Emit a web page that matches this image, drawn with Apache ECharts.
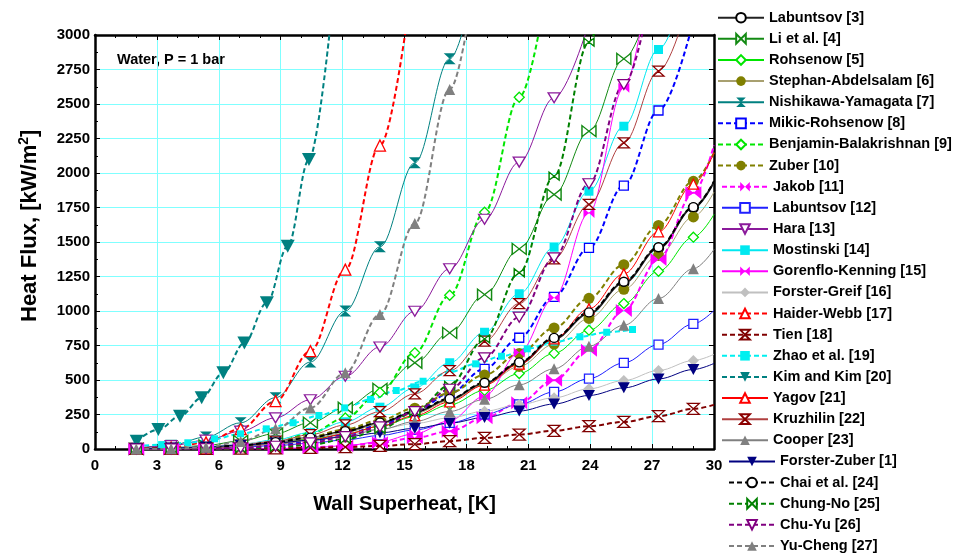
<!DOCTYPE html>
<html>
<head>
<meta charset="utf-8">
<script src="https://cdn.jsdelivr.net/npm/echarts@6/dist/echarts.min.js"></script>
<style>
  html, body { margin: 0; padding: 0; background: #fff; }
  #chart { width: 973px; height: 558px; }
</style>
</head>
<body>
<div id="chart"></div>
<script>
// 横轴：壁面过热度 (K)，多数曲线的标记点位置，最后的 30 只画线不画点
const xs = [2, 3.69, 5.38, 7.06, 8.75, 10.44, 12.13, 13.81, 15.5, 17.19, 18.88, 20.56, 22.25, 23.94, 25.63, 27.31, 29, 30]
// Kim and Kim、Zhao 的标记点位置不同
const kimX = [2.02, 3.07, 4.12, 5.17, 6.22, 7.24, 8.33, 9.34, 10.37, 11.4]
const zhaoX = [2.0, 3.23, 4.5, 5.8, 7.05, 8.3, 9.6, 10.85, 12.1, 13.35, 14.6, 15.9, 17.2, 18.45, 19.7, 20.95, 22.25, 23.5, 24.8, 26.05]

// 各关联式的热流密度 (kW/m2)
const labuntsov3 = [0.6, 3.6, 11, 25, 48, 81, 127, 188, 267, 359, 475, 622, 798, 982, 1204, 1455, 1748, 1935]
const li4 = [1.3, 8.4, 26, 59, 112, 191, 299, 436, 625, 842, 1119, 1450, 1844, 2303, 2827, 3420]
const rohsenow5 = [0.5, 3.2, 9.8, 22, 42, 71, 110, 164, 234, 320, 425, 547, 693, 861, 1054, 1288, 1535, 1700]
const stephan6 = [0.55, 3.5, 10.7, 24, 46, 78, 122, 181, 257, 351, 466, 598, 760, 946, 1157, 1403, 1682, 1862]
const nishikawa7 = [5, 28, 87, 190, 372, 630, 1000, 1465, 2074, 2827, 3740]
const mikic8 = [0.1, 1.0, 4.3, 12.6, 29, 58, 103, 172, 270, 403, 581, 806, 1103, 1458, 1909, 2453, 3100]
const benjamin9 = [0.05, 1.0, 5.3, 18.7, 50, 113, 225, 410, 697, 1114, 1716, 2549, 3666]
const zuber10 = [0.64, 4.0, 12.4, 28, 53, 90, 142, 209, 296, 405, 537, 692, 877, 1092, 1336, 1620, 1940, 2148]
const jakob11 = [0, 0.06, 0.4, 1.6, 4.7, 11.3, 23.6, 45.5, 81, 129, 226, 335, 499, 716, 1003, 1373, 1856, 2200]
const labuntsov12 = [0.3, 1.9, 5.8, 13, 25, 42, 66, 98, 138, 189, 251, 323, 414, 510, 624, 757, 907, 1004]
const hara13 = [4.9, 24, 64, 129, 226, 357, 527, 739, 998, 1306, 1665, 2079, 2545, 3089]
const mostinski14 = [0.5, 3.9, 13.5, 33, 67, 120, 197, 303, 443, 625, 846, 1125, 1462, 1868, 2339, 2895, 3550]
const gorenflo15 = [0, 0.1, 0.3, 0.8, 3.0, 9.2, 23.6, 53, 110, 205, 383, 700, 1096, 1711, 2617, 3900]
const forsterGreif16 = [3.0, 10.4, 22, 38, 58, 83, 112, 145, 185, 226, 274, 322, 371, 436, 496, 569, 641, 686]
const haider17 = [0.9, 10.5, 48, 145, 347, 709, 1300, 2199, 3517]
const tien18 = [0.1, 0.3, 1, 2, 4, 8, 14, 22, 35, 57, 80, 105, 132, 165, 196, 238, 291, 320]
const zhao19 = [20, 32, 45, 74, 110, 146, 190, 243, 298, 359, 424, 491, 557, 617, 672, 726, 774, 813, 846, 866]
const kim20 = [57, 141, 238, 371, 552, 769, 1059, 1470, 2098, 3060]
const yagov21 = [0.3, 2.2, 7.4, 18, 37, 66, 108, 165, 242, 341, 463, 615, 798, 1016, 1269, 1574, 1919, 2147]
const kruzhilin22 = [0.4, 3.1, 10.9, 27.5, 57, 104, 174, 270, 400, 568, 781, 1054, 1378, 1772, 2219, 2738, 3358]
const cooper23 = [0.4, 2.7, 8.3, 19, 36, 61, 95, 141, 199, 272, 360, 465, 581, 745, 897, 1091, 1306, 1446]
const forsterZuber1 = [1.8, 6.8, 15, 28, 44, 64, 88, 117, 150, 187, 229, 275, 326, 388, 443, 508, 576, 620]
const chai24 = [0.7, 3.8, 11.5, 26, 50, 83, 130, 192, 272, 364, 480, 628, 805, 990, 1212, 1462, 1752, 1940]
const chungNo25 = [0, 0.1, 0.6, 3.6, 11.6, 31, 70, 143, 270, 460, 798, 1277, 1977, 2948, 4300]
const chuYu26 = [0, 0.4, 2.2, 7.7, 20, 45, 89, 160, 271, 433, 661, 955, 1385, 1922, 2641, 3600]
const yuCheng27 = [0.2, 2.5, 12, 55, 146, 298, 552, 975, 1634, 2605, 3900]

const xTicks = [0, 30, 3]
const yTicks = [0, 3000, 250]

const FONT = 'Liberation Sans, Arial, sans-serif'

// 标记形状
const bowtie = 'path://M0,0L10,5L0,10ZM20,0L10,5L20,10Z'
const hourglass = 'path://M0,0L10,0L5,5L10,10L0,10L5,5Z'
const downTri = 'path://M0,0L10,0L5,10Z'

function pts(xArr, vArr) {
  return vArr.map((v, i) => {
    const p = { value: [xArr[i], v] }
    if (xArr[i] === 30) p.symbol = 'none'
    return p
  })
}

function line(name, xArr, vArr, color, opt) {
  const o = opt || {}
  const open = o.open
  return {
    name: name,
    type: 'line',
    data: pts(xArr, vArr),
    smooth: 0.35,
    smoothMonotone: 'x',
    clip: true,
    symbol: o.symbol || 'circle',
    symbolSize: o.size || 9,
    showAllSymbol: true,
    lineStyle: {
      color: o.lineColor || color,
      width: o.width || (o.dashed ? 2 : 1),
      type: o.dashed ? [5, 3] : 'solid'
    },
    itemStyle: open
      ? { color: '#fff', borderColor: color, borderWidth: 1.3 }
      : { color: color, borderWidth: 0 },
    emphasis: { disabled: true }
  }
}

const series = [
  line('Labuntsov [3]', xs, labuntsov3, '#000000', { open: true, lineColor: '#222', width: 2, size: 10 }),
  line('Li et al. [4]', xs, li4, '#138a13', { open: true, symbol: bowtie, size: [14, 11] }),
  line('Rohsenow [5]', xs, rohsenow5, '#00e600', { open: true, symbol: 'diamond', size: 10 }),
  line('Stephan-Abdelsalam [6]', xs, stephan6, '#808000', { lineColor: '#a8a070', size: 11 }),
  line('Nishikawa-Yamagata [7]', xs, nishikawa7, '#008080', { symbol: hourglass, size: [12, 11] }),
  line('Mikic-Rohsenow [8]', xs, mikic8, '#0000ff', { open: true, symbol: 'rect', dashed: true, size: 9 }),
  line('Benjamin-Balakrishnan [9]', xs, benjamin9, '#00e600', { open: true, symbol: 'diamond', dashed: true, size: 10 }),
  line('Zuber [10]', xs, zuber10, '#808000', { dashed: true, size: 11 }),
  line('Jakob [11]', xs, jakob11, '#ff00ff', { symbol: bowtie, dashed: true, size: [16, 13] }),
  line('Labuntsov [12]', xs, labuntsov12, '#2020ff', { open: true, symbol: 'rect', size: 9 }),
  line('Hara [13]', xs, hara13, '#8b1a9b', { open: true, symbol: downTri, size: [12, 10] }),
  line('Mostinski [14]', xs, mostinski14, '#00e8f0', { symbol: 'rect', size: 9 }),
  line('Gorenflo-Kenning [15]', xs, gorenflo15, '#ff00ff', { symbol: bowtie, size: [11, 10] }),
  line('Forster-Greif [16]', xs, forsterGreif16, '#c0c0c0', { symbol: 'diamond', size: 11 }),
  line('Haider-Webb [17]', xs, haider17, '#ff0000', { open: true, symbol: 'triangle', dashed: true, size: 11 }),
  line('Tien [18]', xs, tien18, '#800000', { open: true, symbol: hourglass, dashed: true, size: [12, 11] }),
  line('Zhao et al. [19]', zhaoX, zhao19, '#00f0f0', { symbol: 'rect', dashed: true, size: 7 }),
  line('Kim and Kim [20]', kimX, kim20, '#008080', { symbol: downTri, dashed: true, size: [14, 13] }),
  line('Yagov [21]', xs, yagov21, '#ff0000', { open: true, symbol: 'triangle', size: 10 }),
  line('Kruzhilin [22]', xs, kruzhilin22, '#8b0000', { open: true, symbol: hourglass, lineColor: '#b04040', size: [11, 10] }),
  line('Cooper [23]', xs, cooper23, '#808080', { symbol: 'triangle', size: 11 }),
  line('Forster-Zuber [1]', xs, forsterZuber1, '#000080', { symbol: downTri, size: [12, 11] }),
  line('Chai et al. [24]', xs, chai24, '#000000', { open: true, dashed: true, size: 9 }),
  line('Chung-No [25]', xs, chungNo25, '#008000', { open: true, symbol: bowtie, dashed: true, size: [10, 8] }),
  line('Chu-Yu [26]', xs, chuYu26, '#800080', { open: true, symbol: downTri, dashed: true, size: [12, 10] }),
  line('Yu-Cheng [27]', xs, yuCheng27, '#808080', { symbol: 'triangle', dashed: true, size: 11 })
]

const myChart = echarts.init(document.querySelector('#chart'), null, { renderer: 'canvas' })

const axisLabelStyle = { color: '#000', fontWeight: 'bold', fontSize: 15, fontFamily: FONT, formatter: v => String(v) }
const frameLine = { show: true, onZero: false, lineStyle: { color: '#000', width: 2.5 } }

// 图例分三段，越往下稍微往右
const legendStep = 21.13
function legendPart(from, to, left) {
  return {
    orient: 'vertical',
    left: left,
    top: 10.2 + from * legendStep,
    itemWidth: 46,
    itemHeight: 12,
    itemGap: legendStep - 15,
    padding: 0,
    textStyle: { color: '#000', fontWeight: 'bold', fontSize: 14.5, fontFamily: FONT, lineHeight: 14 },
    data: series.slice(from, to).map(s => s.name)
  }
}

const option = {
  animation: false,
  backgroundColor: '#fff',
  grid: { left: 95, right: 259, top: 35, bottom: 109, containLabel: false },
  xAxis: [
    {
      type: 'value', min: xTicks[0], max: xTicks[1], interval: xTicks[2],
      name: 'Wall Superheat, [K]', nameLocation: 'middle', nameGap: 45,
      nameTextStyle: { color: '#000', fontWeight: 'bold', fontSize: 20, fontFamily: FONT },
      axisLine: frameLine,
      axisTick: { inside: true, length: 5, lineStyle: { color: '#000' } },
      minorTick: { show: true, splitNumber: 3, length: 3, lineStyle: { color: '#000' } },
      axisLabel: Object.assign({ margin: 9 }, axisLabelStyle),
      splitLine: { show: true, lineStyle: { color: '#80ffff', width: 1 } }
    },
    {
      type: 'value', min: xTicks[0], max: xTicks[1], interval: xTicks[2], position: 'top',
      axisLine: frameLine,
      axisTick: { inside: true, length: 5, lineStyle: { color: '#000' } },
      minorTick: { show: true, splitNumber: 3, length: 3, lineStyle: { color: '#000' } },
      axisLabel: { show: false },
      splitLine: { show: false }
    }
  ],
  yAxis: [
    {
      type: 'value', min: yTicks[0], max: yTicks[1], interval: yTicks[2],
      axisLine: frameLine,
      axisTick: { inside: true, length: 5, lineStyle: { color: '#000' } },
      minorTick: { show: true, splitNumber: 2, length: 3, lineStyle: { color: '#000' } },
      axisLabel: Object.assign({ margin: 5 }, axisLabelStyle),
      splitLine: { show: true, lineStyle: { color: '#80ffff', width: 1 } }
    },
    {
      type: 'value', min: yTicks[0], max: yTicks[1], interval: yTicks[2], position: 'right',
      axisLine: frameLine,
      axisTick: { inside: true, length: 5, lineStyle: { color: '#000' } },
      axisLabel: { show: false },
      splitLine: { show: false }
    }
  ],
  legend: [
    legendPart(0, 8, 717),
    legendPart(8, 21, 721),
    legendPart(21, 26, 728)
  ],
  graphic: [
    {
      type: 'text', left: 117, top: 52,
      style: { text: 'Water, P = 1 bar', fill: '#000', font: 'bold 14.5px ' + FONT }
    },
    {
      type: 'text', x: 17, y: 322, rotation: Math.PI / 2,
      style: {
        text: '{a|Heat Flux, [kW/m}{s|2}{a|]}',
        rich: {
          a: { fill: '#000', fontWeight: 'bold', fontSize: 22, fontFamily: FONT, lineHeight: 26 },
          s: { fill: '#000', fontWeight: 'bold', fontSize: 14, fontFamily: FONT, verticalAlign: 'top', lineHeight: 14 }
        }
      }
    }
  ],
  series: series
}

myChart.setOption(option)
</script>
</body>
</html>
